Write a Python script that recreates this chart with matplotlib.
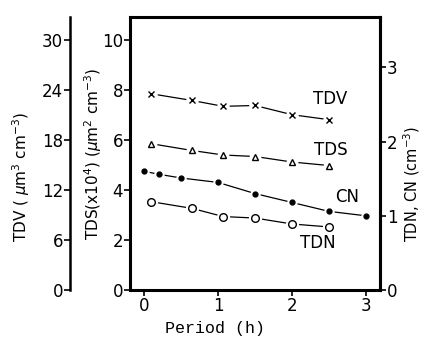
import matplotlib
matplotlib.use("Agg")
import matplotlib.pyplot as plt

# data
t_main = [0.1, 0.65, 1.07, 1.5, 2.0, 2.5]
tdv = [23.5, 22.7, 22.0, 22.1, 21.0, 20.4]
tds = [5.84, 5.57, 5.39, 5.33, 5.11, 4.97]
tdn = [1.19, 1.10, 0.99, 0.97, 0.89, 0.85]
t_cn = [0.0, 0.2, 0.5, 1.0, 1.5, 2.0, 2.5, 3.0]
cn = [1.60, 1.56, 1.51, 1.45, 1.30, 1.18, 1.06, 1.00]

x_ticks = [0, 1, 2, 3]
tds_ticks = [0, 2, 4, 6, 8, 10]
tdv_ticks = [0, 6, 12, 18, 24, 30]
right_ticks = [0, 1, 2, 3]

plt.rcParams['font.family'] = ['DejaVu Sans']

fig = plt.figure(figsize=(4.24, 3.40), dpi=100)
W, H = 424, 340
ax = fig.add_axes([130 / W, (H - 290) / H, 250 / W, 273 / H])
ax2 = ax.twinx()
ax3 = ax.twinx()

ax.set_xlim(-0.19, 3.19)
ax.set_ylim(0, 10.9)
ax2.set_ylim(0, 3.68)
ax3.set_ylim(0, 32.7)


def draw_series(axis, x, y, marker, ms, mfc):
    axis.plot(x, y, color='black', lw=0.9, zorder=2)
    axis.plot(x, y, ls='none', marker='o', ms=ms + 3, mfc='white', mec='white', zorder=3)
    axis.plot(x, y, ls='none', marker=marker, ms=ms, mfc=mfc, mec='black', mew=1.0, zorder=4)


draw_series(ax3, t_main, tdv, 'x', 5, 'black')
draw_series(ax, t_main, tds, '^', 4.5, 'white')
draw_series(ax2, t_cn, cn, 'o', 3.5, 'black')
draw_series(ax2, t_main, tdn, 'o', 5.5, 'white')

# series labels
lab = dict(fontsize=12, ha='center', va='center')
ax.text(2.51, 7.64, 'TDV', **lab)
ax.text(2.53, 5.6, 'TDS', **lab)
ax.text(2.74, 3.72, 'CN', **lab)
ax.text(2.35, 1.88, 'TDN', **lab)

# frame
for s in ['left', 'right', 'top', 'bottom']:
    ax.spines[s].set_linewidth(2.2)
for s in ['left', 'top', 'bottom']:
    ax2.spines[s].set_visible(False)
ax2.spines['right'].set_linewidth(2.2)
for s in ['right', 'top', 'bottom']:
    ax3.spines[s].set_visible(False)
ax3.spines['left'].set_visible(True)
ax3.spines['left'].set_position(('axes', -0.24))
ax3.spines['left'].set_linewidth(1.8)
ax3.yaxis.set_ticks_position('left')
ax3.yaxis.set_label_position('left')

ax.set_xticks(x_ticks)
ax.set_yticks(tds_ticks)
ax2.set_yticks(right_ticks)
ax3.set_yticks(tdv_ticks)
for a in (ax, ax2, ax3):
    a.tick_params(direction='out', length=4, width=1.2, labelsize=12, pad=1)

ax.set_xlabel('Period (h)', family='Liberation Mono', fontsize=12)
ax.xaxis.set_label_coords(0.34, -0.112)
ax.set_ylabel(r'TDS(x10$^4$) ($\mu$m$^2$ cm$^{-3}$)', fontsize=11)
ax.yaxis.set_label_coords(-0.102, 0.5)
ax3.set_ylabel(r'TDV ( $\mu$m$^3$ cm$^{-3}$)', fontsize=11)
ax3.yaxis.set_label_coords(-0.394, 0.414)
ax2.set_ylabel(r'TDN, CN (cm$^{-3}$)', fontsize=10.5)
ax2.yaxis.set_label_coords(1.084, 0.39)

fig.savefig('out.png', dpi=100)
